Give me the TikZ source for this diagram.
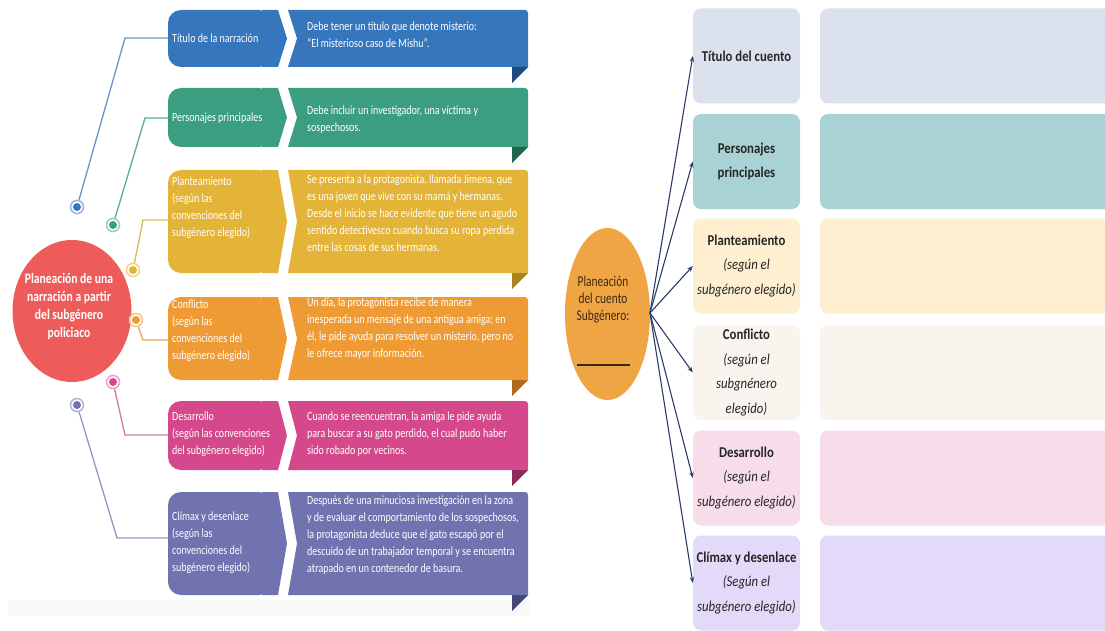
\documentclass[tikz,border=0pt]{standalone}
\usepackage{fontspec}
\usetikzlibrary{arrows.meta,shapes.geometric}
\newfontfamily\leftfont[FakeStretch=0.8]{Carlito}
\newfontfamily\rightfont[FakeStretch=0.85]{Carlito}
\newfontfamily\hubfont[FakeStretch=0.8]{Carlito}
\newfontfamily\ellfont[FakeStretch=0.76]{Carlito}
\definecolor{blueM}{HTML}{3676BC}
\definecolor{blueD}{HTML}{1E4A80}
\definecolor{blueL}{HTML}{6A94CC}
\definecolor{blueR}{HTML}{9DB8E0}
\definecolor{greenM}{HTML}{3C9E81}
\definecolor{greenD}{HTML}{1F6650}
\definecolor{greenL}{HTML}{5AAE94}
\definecolor{greenR}{HTML}{96D2BE}
\definecolor{yellowM}{HTML}{E3B438}
\definecolor{yellowD}{HTML}{A8841E}
\definecolor{yellowL}{HTML}{D8BC60}
\definecolor{yellowR}{HTML}{F0D888}
\definecolor{orangeM}{HTML}{EF9B35}
\definecolor{orangeD}{HTML}{B06A18}
\definecolor{orangeL}{HTML}{E8A860}
\definecolor{orangeR}{HTML}{F6C890}
\definecolor{pinkM}{HTML}{D5498C}
\definecolor{pinkD}{HTML}{8E2A5C}
\definecolor{pinkL}{HTML}{D07AA6}
\definecolor{pinkR}{HTML}{ECA4C8}
\definecolor{purpleM}{HTML}{7172B0}
\definecolor{purpleD}{HTML}{46477A}
\definecolor{purpleL}{HTML}{9494C4}
\definecolor{purpleR}{HTML}{B4B4DC}
\definecolor{redC}{HTML}{EE5B5B}
\definecolor{ellC}{HTML}{F0A545}
\definecolor{ellT}{HTML}{3A2A14}
\definecolor{navyA}{HTML}{2A3C6C}
\definecolor{rtxt}{HTML}{262626}
\definecolor{rA}{HTML}{DCE1EE}
\definecolor{rB}{HTML}{A9D2D5}
\definecolor{rC}{HTML}{FDEFD0}
\definecolor{rD}{HTML}{F9F4EE}
\definecolor{rE}{HTML}{F7DDEA}
\definecolor{rF}{HTML}{E3D9F8}
\newcommand{\ribrow}[9]{%
  \pgfmathsetmacro{\rmid}{(#1+#2)/2}%
  \fill[#3, rounded corners=13pt] (168,#1) rectangle (272,#2);
  \fill[#3] (262,#1) -- (278,#1) -- (287,\rmid) -- (278,#2) -- (262,#2) -- cycle;
  \fill[#3, rounded corners=3pt] (288,#1) -- (528,#1) [sharp corners] -- (528,#2) -- (288,#2) -- (297,\rmid) -- cycle;
  \fill[#4] (512,#2) -- (528,#2) -- (512,#2+16) -- cycle;
  \node[lbltext] (L#9) at (172,#6) {#5};
  \node[lbltext] (D#9) at (307,#8) {#7};
}
\newcommand{\dotnode}[4]{%
  \node[circle, fill=white, draw=#4, line width=1.6pt, minimum size=13pt, inner sep=0pt] (#1) at (#2) {};
  \fill[#3] (#1.center) circle[radius=4pt];
}
\begin{document}
\begin{tikzpicture}[x=1pt,y=-1pt,
  lbltext/.style={anchor=west, align=left, inner sep=0pt, text=white, font=\leftfont\fontsize{12.5}{17}\selectfont},
  hubtext/.style={align=center, inner sep=0pt, text=white, font=\hubfont\bfseries\fontsize{14.5}{18}\selectfont},
  etext/.style={align=center, inner sep=0pt, text=ellT, font=\ellfont\fontsize{15}{17}\selectfont},
  rlab/.style={rounded corners=8pt, minimum width=107pt, minimum height=95pt, inner sep=0pt, align=center, text=rtxt, font=\rightfont\fontsize{15}{24.5}\selectfont},
  wbox/.style={rounded corners=8pt, minimum width=300pt, minimum height=95pt, inner sep=0pt},
  link/.style={line width=1.3pt},
  arr/.style={navyA, line width=1.1pt, -{Stealth[length=6pt,width=4.5pt]}}
]
\useasboundingbox (0,0) rectangle (1105,631);
\clip (0,0) rectangle (1105,631);
\fill[white] (0,0) rectangle (1105,631);
\fill[gray!5] (8,600) rectangle (530,616);

% ---------- left diagram ----------
\node[ellipse, fill=redC, minimum width=119pt, minimum height=142pt, inner sep=0pt] (H) at (72,311) {};
\node[hubtext] (Ht) at (69,307) {Planeación de una\\narración a partir\\del subgénero\\policiaco};

\ribrow{10}{67}{blueM}{blueD}{Título de la narración}{38}{Debe tener un título que denote misterio:\\“El misterioso caso de Mishu”.}{35}{1}
\ribrow{88}{147}{greenM}{greenD}{Personajes principales}{118}{Debe incluir un investigador, una víctima y\\sospechosos.}{120}{2}
\ribrow{170}{273}{yellowM}{yellowD}{Planteamiento\\(según las\\convenciones del\\subgénero elegido)}{208}{Se presenta a la protagonista, llamada Jimena, que\\es una joven que vive con su mamá y hermanas.\\Desde el inicio se hace evidente que tiene un agudo\\sentido detectivesco cuando busca su ropa perdida\\entre las cosas de sus hermanas.}{213}{3}
\ribrow{297}{380}{orangeM}{orangeD}{Conflicto\\(según las\\convenciones del\\subgénero elegido)}{331}{Un día, la protagonista recibe de manera\\inesperada un mensaje de una antigua amiga; en\\él, le pide ayuda para resolver un misterio, pero no\\le ofrece mayor información.}{329}{4}
\ribrow{401}{470}{pinkM}{pinkD}{Desarrollo\\(según las convenciones\\del subgénero elegido)}{434}{Cuando se reencuentran, la amiga le pide ayuda\\para buscar a su gato perdido, el cual pudo haber\\sido robado por vecinos.}{434}{5}
\ribrow{492}{595}{purpleM}{purpleD}{Clímax y desenlace\\(según las\\convenciones del\\subgénero elegido)}{543}{Después de una minuciosa investigación en la zona\\y de evaluar el comportamiento de los sospechosos,\\la protagonista deduce que el gato escapó por el\\descuido de un trabajador temporal y se encuentra\\atrapado en un contenedor de basura.}{535}{6}

\coordinate (B1) at (168,38);
\coordinate (B2) at (168,118);
\coordinate (B3) at (168,220);
\coordinate (B4) at (168,340);
\coordinate (B5) at (168,435);
\coordinate (B6) at (168,538);
\coordinate (K1) at (125,38);
\coordinate (K2) at (145,118);
\coordinate (K3) at (143,220);
\coordinate (K4) at (143,340);
\coordinate (K5) at (125,435);
\coordinate (K6) at (117,538);
\coordinate (P1) at (77,207);
\coordinate (P2) at (113,225);
\coordinate (P3) at (133,270);
\coordinate (P4) at (136,320);
\coordinate (P5) at (113,382);
\coordinate (P6) at (77,405);

\draw[link, blueL] (P1) -- (K1) -- (B1);
\draw[link, greenL] (P2) -- (K2) -- (B2);
\draw[link, yellowL] (P3) -- (K3) -- (B3);
\draw[link, orangeL] (P4) -- (K4) -- (B4);
\draw[link, pinkL] (P5) -- (K5) -- (B5);
\draw[link, purpleL] (P6) -- (K6) -- (B6);

\dotnode{d1}{P1}{blueM}{blueR}
\dotnode{d2}{P2}{greenM}{greenR}
\dotnode{d3}{P3}{yellowM}{yellowR}
\dotnode{d4}{P4}{orangeM}{orangeR}
\dotnode{d5}{P5}{pinkM}{pinkR}
\dotnode{d6}{P6}{purpleM}{purpleR}

% ---------- right diagram ----------
\node[ellipse, fill=ellC, minimum width=85pt, minimum height=172pt, inner sep=0pt] (E) at (607.5,314) {};
\node[etext] (Et) at (603,300) {Planeación\\del cuento\\Subgénero:};
\coordinate (U1) at (577,365);
\coordinate (U2) at (630,365);
\draw[line width=1.4pt, ellT] (U1) -- (U2);
\coordinate (hub) at (650,313);

\node[rlab, fill=rA] (r1) at (746.5,56) {\textbf{Título del cuento}};
\node[rlab, fill=rB] (r2) at (746.5,161.5) {\textbf{Personajes}\\\textbf{principales}};
\node[rlab, fill=rC] (r3) at (746.5,266) {\textbf{Planteamiento}\\\textit{(según el}\\\textit{subgénero elegido)}};
\node[rlab, fill=rD] (r4) at (746.5,372.5) {\textbf{Conflicto}\\\textit{(según el}\\\textit{subgnénero}\\\textit{elegido)}};
\node[rlab, fill=rE] (r5) at (746.5,478) {\textbf{Desarrollo}\\\textit{(según el}\\\textit{subgénero elegido)}};
\node[rlab, fill=rF] (r6) at (746.5,583) {\textbf{Clímax y desenlace}\\\textit{(Según el}\\\textit{subgénero elegido)}};

\node[wbox, fill=rA] (w1) at (970,56) {};
\node[wbox, fill=rB] (w2) at (970,161.5) {};
\node[wbox, fill=rC] (w3) at (970,266) {};
\node[wbox, fill=rD] (w4) at (970,372.5) {};
\node[wbox, fill=rE] (w5) at (970,478) {};
\node[wbox, fill=rF] (w6) at (970,583) {};

\foreach \i in {1,...,6} \draw[arr] (hub) -- (r\i.west);
\end{tikzpicture}
\end{document}
